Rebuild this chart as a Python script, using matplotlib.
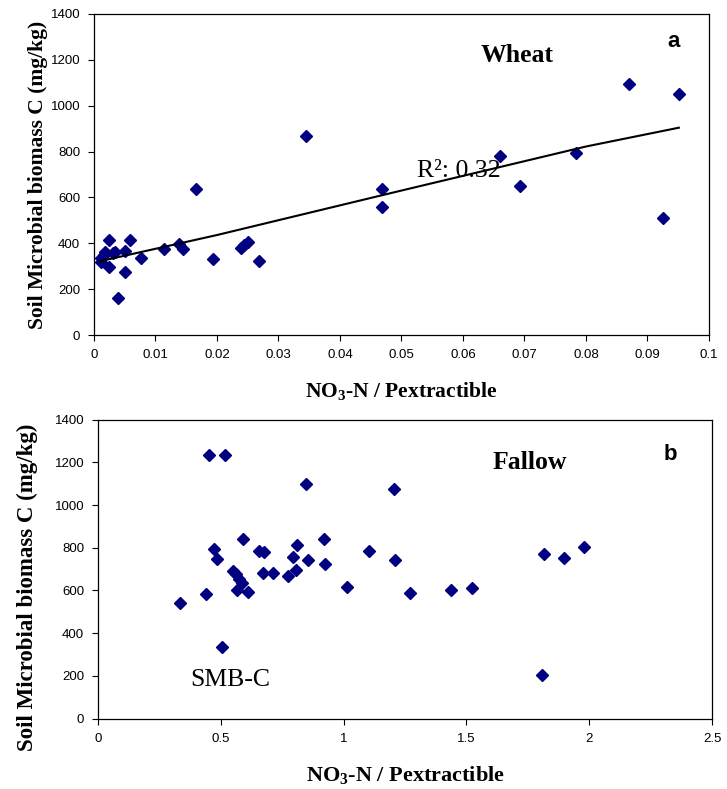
# Soil microbial biomass C vs NO3-N / P extractable, wheat (a) and fallow (b)
import matplotlib
matplotlib.use("Agg")
import matplotlib.pyplot as plt
import numpy as np

# wheat data (panel a)
wheat_x = [0.0011, 0.0012, 0.0016, 0.0018, 0.0024, 0.0025, 0.0031, 0.0034, 0.0039,
           0.0050, 0.0051, 0.0058, 0.0076, 0.0114, 0.0139, 0.0144, 0.0166, 0.0194,
           0.0239, 0.0244, 0.0250, 0.0269, 0.0344, 0.0469, 0.0469, 0.0661, 0.0693,
           0.0784, 0.0870, 0.0926, 0.0951]
wheat_y = [334, 317, 349, 363, 414, 298, 356, 363, 160,
           276, 368, 414, 334, 375, 397, 375, 638, 330,
           378, 392, 406, 324, 868, 638, 557, 781, 650,
           794, 1095, 512, 1052]

# trend line as drawn in the original
trend_x = [0.001, 0.02, 0.05, 0.08, 0.0951]
trend_y = [322, 436, 630, 822, 904]

# fallow data (panel b)
fallow_x = [0.335, 0.450, 0.518, 0.441, 0.472, 0.484, 0.505, 0.551, 0.561, 0.574,
            0.588, 0.566, 0.612, 0.591, 0.655, 0.677, 0.672, 0.712, 0.774, 0.792,
            0.805, 0.810, 0.847, 0.856, 0.920, 0.924, 1.014, 1.104, 1.207, 1.211,
            1.270, 1.437, 1.523, 1.814, 1.899, 1.980, 1.808]
fallow_y = [539, 1232, 1232, 583, 793, 745, 335, 692, 677, 653,
            633, 600, 594, 843, 787, 781, 684, 684, 669, 759,
            697, 815, 1097, 742, 843, 725, 618, 786, 1074, 742,
            588, 600, 611, 770, 754, 804, 206]

NAVY = "#000080"
SERIF = "Liberation Serif"
SANS = "Liberation Sans"

plt.rcParams["mathtext.fontset"] = "custom"
plt.rcParams["mathtext.rm"] = "Liberation Serif"
plt.rcParams["mathtext.bf"] = "Liberation Serif:bold"
plt.rcParams["mathtext.it"] = "Liberation Serif:italic"

XLABEL = r"NO$_\mathbf{3}$-N / Pextractible"
YLABEL = "Soil Microbial biomass C (mg/kg)"

fig = plt.figure(figsize=(7.27, 7.89), dpi=100)
ax1 = fig.add_axes([0.1293, 0.5754, 0.8459, 0.4069])
ax2 = fig.add_axes([0.1348, 0.0892, 0.8446, 0.379])


def style_axis(ax, xmax, xstep):
    ax.set_xlim(0, xmax)
    ax.set_ylim(0, 1400)
    ax.set_xticks(np.arange(0, xmax + xstep / 2, xstep))
    ax.set_yticks(np.arange(0, 1401, 200))
    ax.tick_params(direction="out", length=4, width=0.8, labelsize=9.5, pad=6)
    for lab in ax.get_yticklabels():
        lab.set_fontfamily(SANS)
    for sp in ax.spines.values():
        sp.set_linewidth(0.9)


# panel a
ax1.plot(wheat_x, wheat_y, linestyle="none", marker="D", ms=6.5, color=NAVY)
ax1.plot(trend_x, trend_y, color="black", lw=1.5)
style_axis(ax1, 0.1, 0.01)
ax1.set_xticklabels(["0", "0.01", "0.02", "0.03", "0.04", "0.05", "0.06",
                     "0.07", "0.08", "0.09", "0.1"], fontfamily=SANS)
ax1.text(0.0688, 1220, "Wheat", fontfamily=SERIF, fontweight="bold", fontsize=18.5, ha="center", va="center")
ax1.text(0.0942, 1280, "a", fontfamily=SANS, fontweight="bold", fontsize=16, ha="center", va="center")
ax1.text(0.0525, 715, "R²: 0.32", fontfamily=SERIF, fontsize=18.5, ha="left", va="center")
ax1.set_xlabel(XLABEL, fontfamily=SERIF, fontweight="bold", fontsize=15.5, labelpad=14)
ax1.set_ylabel(YLABEL, fontfamily=SERIF, fontweight="bold", fontsize=15.5, labelpad=2)

# panel b
ax2.plot(fallow_x, fallow_y, linestyle="none", marker="D", ms=6.5, color=NAVY)
style_axis(ax2, 2.5, 0.5)
ax2.set_xticklabels(["0", "0.5", "1", "1.5", "2", "2.5"], fontfamily=SANS)
ax2.text(1.76, 1200, "Fallow", fontfamily=SERIF, fontweight="bold", fontsize=18.5, ha="center", va="center")
ax2.text(2.33, 1235, "b", fontfamily=SANS, fontweight="bold", fontsize=16, ha="center", va="center")
ax2.text(0.54, 180, "SMB-C", fontfamily=SERIF, fontsize=18.5, ha="center", va="center")
ax2.set_xlabel(XLABEL, fontfamily=SERIF, fontweight="bold", fontsize=16, labelpad=14)
ax2.set_ylabel(YLABEL, fontfamily=SERIF, fontweight="bold", fontsize=16.5, labelpad=6)
ax2.yaxis.set_label_coords(-0.098, 0.44)

fig.savefig("out.png", dpi=100)
